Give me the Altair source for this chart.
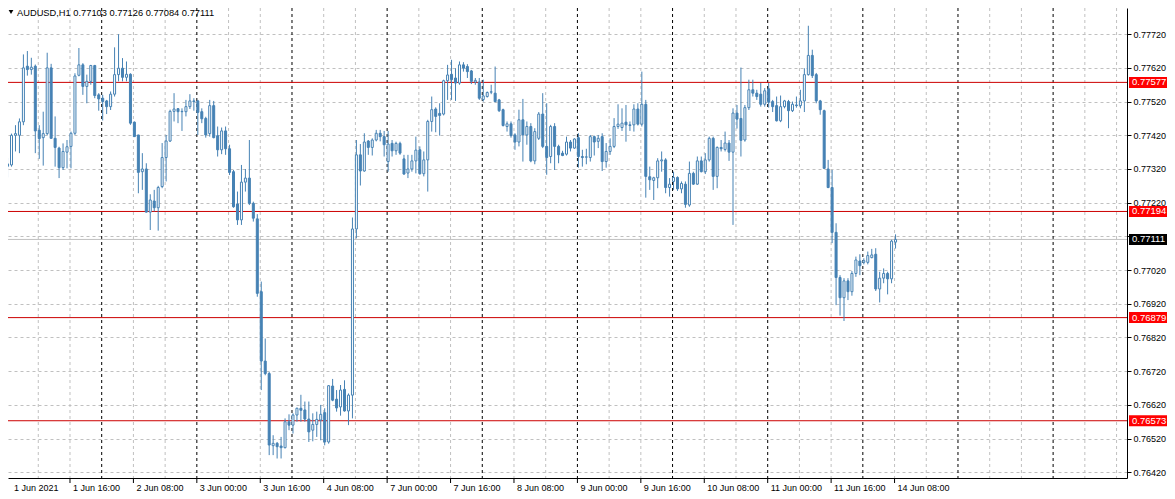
import altair as alt
import pandas as pd

# ---- data (prices in 1e-5 units), hourly candles from 1 Jun 2021 00:00 ----
opens = [77328,77332,77420,77420,77460,77625,77615,77625,77435,77413,77425,77620,77411,77382,77324,77370,77387,77426,77598,77629,
         77565,77580,77627,77540,77530,77522,77505,77542,77600,77619,77592,77601,77459,77421,77312,77320,77192,77225,77205,77268,
         77354,77403,77491,77499,77490,77490,77505,77522,77522,77490,77470,77425,77508,77419,77377,77433,77380,77312,77216,77169,
         77281,77293,77218,77172,76956,76750,76713,76499,76506,76498,76493,76570,76560,76590,76610,76605,76578,76545,76562,76575,
         76597,76510,76676,76637,76614,76666,76602,76649,77142,77362,77314,77403,77384,77406,77426,77416,77342,77396,77374,77396,
         77350,77308,77320,77344,77377,77306,77347,77461,77498,77485,77483,77582,77601,77590,77575,77629,77624,77611,77578,77578,
         77526,77535,77548,77545,77525,77496,77446,77454,77421,77400,77466,77421,77446,77344,77411,77483,77387,77357,77446,77387,
         77367,77364,77400,77382,77413,77357,77355,77354,77416,77402,77416,77342,77372,77387,77446,77443,77459,77451,77451,77498,
         77453,77512,77297,77286,77294,77344,77347,77265,77283,77295,77261,77275,77213,77307,77275,77344,77312,77347,77411,77298,
         77384,77378,77397,77370,77486,77470,77406,77502,77555,77545,77542,77512,77558,77520,77508,77463,77505,77520,77493,77510,
         77508,77522,77600,77657,77600,77522,77493,77320,77265,77132,76998,76938,76988,76956,77010,77047,77043,77043,77057,77067,
         76964,76996,77010,76994,77103]
highs = [77353,77425,77450,77470,77660,77670,77650,77630,77450,77490,77665,77632,77476,77386,77396,77406,77431,77604,77679,77634,
         77600,77629,77629,77545,77540,77525,77550,77681,77720,77649,77639,77604,77461,77421,77367,77337,77245,77258,77270,77397,
         77421,77496,77545,77500,77500,77525,77542,77530,77525,77500,77475,77525,77522,77446,77443,77446,77392,77317,77253,77332,
         77320,77406,77223,77186,76986,76817,76718,76530,76510,76525,76580,76592,76595,76612,76650,76630,76630,76595,76600,76620,
         76610,76679,76697,76664,76679,76693,76654,77176,77406,77394,77426,77406,77411,77436,77436,77433,77433,77406,77401,77401,
         77362,77362,77362,77416,77387,77372,77466,77535,77503,77515,77585,77629,77644,77619,77639,77637,77631,77614,77590,77590,
         77585,77550,77570,77624,77528,77499,77461,77461,77426,77496,77528,77461,77456,77441,77489,77545,77515,77451,77456,77392,
         77374,77416,77406,77411,77426,77377,77380,77421,77419,77421,77426,77397,77411,77471,77512,77500,77510,77461,77512,77515,
         77609,77525,77327,77297,77352,77372,77352,77293,77312,77298,77283,77283,77342,77312,77357,77357,77367,77416,77416,77387,
         77406,77431,77406,77500,77510,77621,77510,77585,77585,77555,77575,77560,77575,77525,77535,77538,77525,77525,77520,77535,
         77555,77619,77745,77674,77605,77525,77496,77347,77317,77159,77005,76996,76996,77017,77060,77067,77055,77075,77083,77085,
         77015,77025,77015,77110,77126]
lows = [77295,77327,77372,77367,77450,77597,77600,77367,77350,77330,77420,77410,77327,77293,77317,77322,77322,77421,77595,77540,
        77515,77570,77530,77493,77464,77483,77495,77535,77580,77580,77580,77451,77415,77248,77258,77191,77139,77194,77137,77263,
        77283,77400,77461,77456,77433,77476,77498,77493,77421,77456,77413,77416,77411,77357,77364,77362,77302,77205,77154,77154,
        77253,77213,77164,76941,76664,76708,76471,76471,76461,76461,76491,76545,76535,76570,76570,76570,76510,76512,76525,76515,
        76500,76505,76631,76600,76588,76600,76560,76580,77114,77271,77312,77362,77360,77402,77402,77357,77312,77357,77362,77362,
        77303,77293,77312,77307,77303,77298,77253,77431,77429,77419,77479,77525,77525,77522,77570,77609,77590,77572,77570,77525,
        77520,77532,77542,77518,77489,77446,77431,77413,77377,77387,77342,77392,77340,77334,77406,77382,77303,77337,77317,77337,
        77358,77360,77372,77380,77324,77327,77334,77342,77360,77382,77314,77324,77362,77382,77439,77433,77401,77433,77431,77449,
        77446,77235,77258,77228,77263,77312,77248,77238,77258,77255,77248,77205,77208,77273,77273,77310,77305,77342,77258,77263,
        77372,77372,77344,77154,77440,77357,77401,77495,77535,77525,77505,77505,77502,77489,77461,77459,77500,77441,77489,77502,
        77500,77489,77597,77590,77515,77481,77320,77263,77100,76916,76885,76869,76931,76944,77000,77005,77037,77037,77055,76958,
        76924,76981,76948,76981,77084]
closes = [77335,77420,77425,77460,77620,77615,77622,77433,77410,77425,77620,77411,77384,77324,77372,77386,77426,77596,77629,77565,
          77580,77627,77538,77528,77520,77505,77542,77600,77619,77592,77601,77456,77416,77310,77320,77192,77228,77205,77265,77354,
          77403,77491,77498,77490,77491,77505,77522,77520,77488,77469,77421,77508,77413,77377,77433,77380,77310,77208,77169,77281,
          77293,77218,77174,76951,76750,76713,76501,76506,76496,76493,76570,76560,76590,76610,76604,76578,76540,76562,76577,76592,
          76510,76677,76634,76611,76664,76602,76649,77142,77362,77314,77400,77384,77406,77426,77416,77392,77394,77374,77396,77367,
          77305,77320,77344,77376,77306,77347,77461,77496,77476,77479,77582,77599,77585,77575,77629,77619,77609,77580,77583,77530,
          77537,77547,77549,77520,77493,77449,77454,77419,77400,77466,77421,77446,77344,77431,77483,77387,77354,77446,77387,77362,
          77360,77400,77382,77409,77357,77354,77356,77416,77400,77411,77342,77372,77387,77446,77453,77456,77451,77449,77498,77453,
          77512,77298,77288,77294,77344,77347,77265,77275,77295,77261,77277,77215,77307,77275,77344,77312,77347,77411,77298,77384,
          77380,77397,77370,77486,77468,77405,77502,77555,77545,77535,77512,77552,77518,77505,77463,77505,77522,77493,77512,77508,
          77522,77600,77657,77597,77522,77496,77322,77265,77132,76998,76938,76988,76956,77010,77050,77033,77048,77063,77065,76964,
          76996,77010,76994,77106,77111]

level_prices = [0.77577, 0.77194, 0.76879, 0.76573]
bid_price = 0.77111
y_tick_values = [0.76420, 0.76520, 0.76620, 0.76720, 0.76820, 0.76920, 0.77020,
                 0.77120, 0.77220, 0.77320, 0.77420, 0.77520, 0.77620, 0.77720]
x_tick_bars = [0, 16, 32, 48, 64, 80, 96, 112, 128, 144, 160, 176, 192, 208, 224]
x_tick_labels = ["1 Jun 2021", "1 Jun 16:00", "2 Jun 08:00", "3 Jun 00:00", "3 Jun 16:00",
                 "4 Jun 08:00", "7 Jun 00:00", "7 Jun 16:00", "8 Jun 08:00", "9 Jun 00:00",
                 "9 Jun 16:00", "10 Jun 08:00", "11 Jun 00:00", "11 Jun 16:00", "14 Jun 08:00"]
header_text = "AUDUSD,H1  0.77103 0.77126 0.77084 0.77111"

# ---- layout ----
W, H = 1119, 470
X0 = 1.375
X1 = X0 + W / 4.0
Y_TOP, Y_BOT = 0.777977, 0.764031
BLUE = "#4682B4"
FONT = "Liberation Sans"

n = len(opens)
df = pd.DataFrame({
    "i": list(range(n)),
    "o": [v / 1e5 for v in opens],
    "h": [v / 1e5 for v in highs],
    "l": [v / 1e5 for v in lows],
    "c": [v / 1e5 for v in closes],
})

xscale = alt.Scale(domain=[X0, X1], nice=False, zero=False)
yscale = alt.Scale(domain=[Y_BOT, Y_TOP], nice=False, zero=False)
xaxis = alt.Axis(orient="bottom", title=None, domain=True, domainColor="black", domainWidth=1,
                 ticks=False, labels=False, grid=False)
# the 0.77120 label sits under the black bid-price box, as in the terminal
yaxis = alt.Axis(orient="right", title=None, values=y_tick_values, format=".5f",
                 labelExpr="(datum.value > 0.77115 && datum.value < 0.77125) ? '' : datum.label",
                 domain=True, domainColor="black", domainWidth=1,
                 ticks=True, tickColor="black", tickSize=4, tickWidth=1,
                 labelFont=FONT, labelFontSize=9, labelColor="black", labelPadding=2,
                 labelOverlap=False, grid=True, gridColor="#c0c0c0", gridDash=[3, 3], gridWidth=1)


def X(f):
    return alt.X(f, type="quantitative", scale=xscale, axis=xaxis)


def Y(f):
    return alt.Y(f, type="quantitative", scale=yscale, axis=yaxis)


# vertical grid
grey_idx = [8 * k - 0.25 for k in range(1, 36) if k % 3 != 0]
day_idx = [24 * k - 0.25 for k in range(1, 12)]
vgrid = alt.Chart(pd.DataFrame({"g": grey_idx})).mark_rule(
    color="#c0c0c0", strokeWidth=1, strokeDash=[3, 3], clip=True).encode(x=X("g"))
vday = alt.Chart(pd.DataFrame({"g": day_idx})).mark_rule(
    color="black", strokeWidth=1, strokeDash=[3, 3], clip=True).encode(x=X("g"))

levels_df = pd.DataFrame({"p": level_prices})
red_lines = alt.Chart(levels_df).mark_rule(color="#cc0000", strokeWidth=1).encode(y=Y("p"))
bid_line = alt.Chart(pd.DataFrame({"p": [bid_price]})).mark_rule(color="#c0c0c0", strokeWidth=1).encode(y=Y("p"))

wicks = alt.Chart(df).mark_rule(color=BLUE, strokeWidth=1, clip=True).encode(
    x=X("i"), y=Y("l"), y2="h:Q")
bodies = alt.Chart(df).mark_bar(size=2, stroke=BLUE, strokeWidth=1, clip=True).encode(
    x=X("i"), y=Y("o"), y2="c:Q",
    fill=alt.condition("datum.c >= datum.o", alt.value("#ffffff"), alt.value(BLUE)))

# price label boxes on the right axis
box_df = pd.DataFrame({
    "p": level_prices + [bid_price],
    "t": ["%.5f" % v for v in level_prices + [bid_price]],
    "bg": ["#ff0000"] * len(level_prices) + ["#000000"],
})
boxes = alt.Chart(box_df).mark_point(
    shape="M-1,-0.275H1V0.275H-1Z", size=(2 * 20) ** 2, filled=True, opacity=1,
    strokeWidth=0, clip=False).encode(
    x=alt.value(W + 22), y=Y("p"), color=alt.Color("bg:N", scale=None))
box_text = alt.Chart(box_df).mark_text(
    align="left", baseline="middle", font=FONT, fontSize=9.5, color="white", clip=False).encode(
    x=alt.value(W + 5), y=Y("p"), text="t:N")

# bottom time axis (ticks + labels)
tick_df = pd.DataFrame({
    "tx": [b - 0.25 for b in x_tick_bars],
    "lx": [max(b - 0.25, X0 - 0.5) for b in x_tick_bars],
    "t": x_tick_labels,
})
xticks = alt.Chart(tick_df).mark_rule(color="black", strokeWidth=1, clip=False).encode(
    x=X("tx"), y=alt.value(H), y2=alt.value(H + 5))
xlabels = alt.Chart(tick_df).mark_text(
    align="left", baseline="alphabetic", dx=3, font=FONT, fontSize=9, color="black", clip=False).encode(
    x=X("lx"), y=alt.value(H + 12.5), text="t:N")

# header
header = alt.Chart(pd.DataFrame({"t": [header_text]})).mark_text(
    align="left", baseline="alphabetic", font=FONT, fontSize=9.3, color="black").encode(
    x=alt.value(9), y=alt.value(7.8), text="t:N")
tri = alt.Chart(pd.DataFrame({"t": [header_text]})).mark_point(
    shape="triangle-down", size=22, filled=True, color="black", opacity=1).encode(
    x=alt.value(3), y=alt.value(4))

chart = alt.layer(
    vgrid, vday, red_lines, bid_line, wicks, bodies, boxes, box_text, xticks, xlabels, header, tri
).properties(
    width=W, height=H,
    autosize=alt.AutoSizeParams(type="none"),
    padding={"left": 0, "top": 0, "right": 40, "bottom": 13},
).configure_view(stroke=None)

chart.save("out.html", embed_options={"renderer": "svg", "actions": False})
